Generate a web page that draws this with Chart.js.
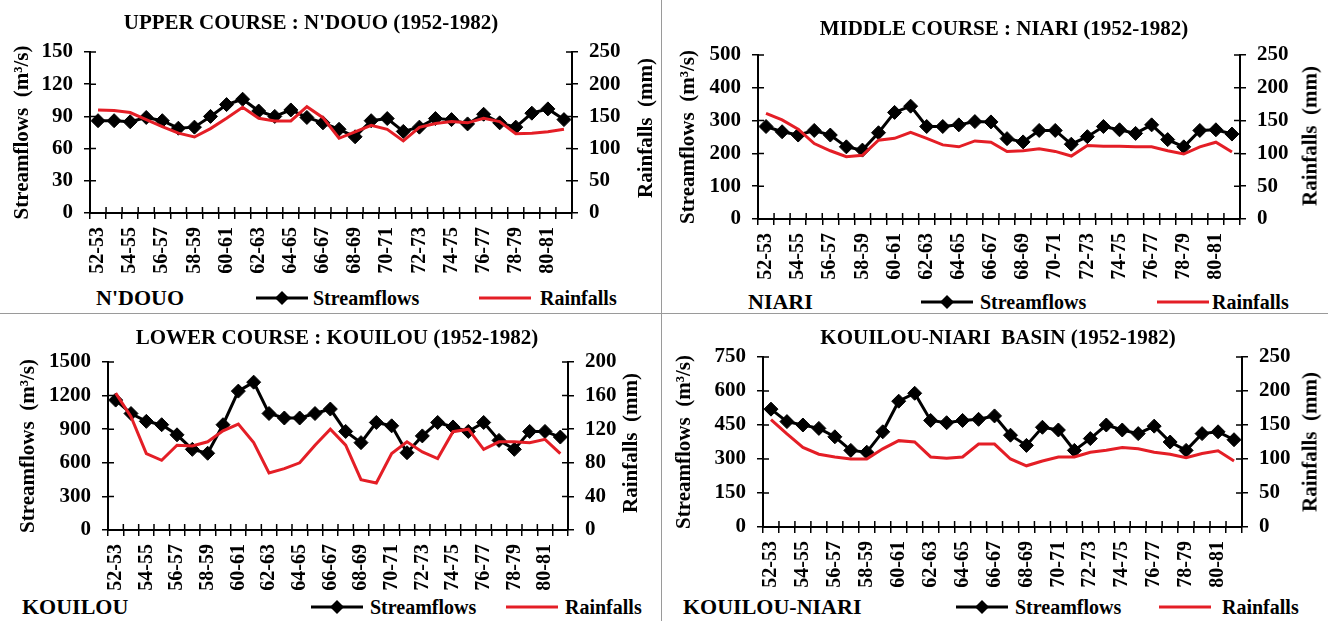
<!DOCTYPE html>
<html>
<head>
<meta charset="utf-8">
<script src="https://cdn.jsdelivr.net/npm/chart.js@4.4.0/dist/chart.umd.min.js"></script>
<style>
  body { margin: 0; background: #fff; }
  #page { position: relative; width: 1328px; height: 621px; overflow: hidden;
          font-family: 'Liberation Serif', 'Times New Roman', serif; font-weight: bold; color: #000; }
  canvas { position: absolute; }
  .txt { position: absolute; white-space: pre; line-height: 1; }
  .title { font-size: 21px; transform: translate(-50%, -50%); }
  .place { font-size: 22px; transform: translateY(-50%); }
  .leg { font-size: 20px; transform: translateY(-50%); }
  .rtitle { font-size: 21px; transform: translate(-50%, -50%) rotate(-90deg); }
  .sep { position: absolute; background: #9a9a9a; }
</style>
</head>
<body>
<div id="page">
  <div class="sep" style="left:661px;top:0;width:1px;height:621px"></div>
  <div class="sep" style="left:0;top:313px;width:1328px;height:1px"></div>
</div>
<script>
// hydrological years
const seasons = ['52-53', '53-54', '54-55', '55-56', '56-57', '57-58', '58-59', '59-60', '60-61', '61-62',
                 '62-63', '63-64', '64-65', '65-66', '66-67', '67-68', '68-69', '69-70', '70-71', '71-72',
                 '72-73', '73-74', '74-75', '75-76', '76-77', '77-78', '78-79', '79-80', '80-81', '81-82'];

// streamflows (m3/s) and rainfalls (mm)
const ndouoFlow = [86, 86, 85, 89, 86, 79, 80, 90, 101, 106, 95, 90, 96, 89, 84, 78, 71, 86, 88, 76, 80, 88, 87, 83, 92, 84, 80, 93, 97, 87];
const ndouoRain = [160, 159, 156, 145, 134, 124, 118, 131, 147, 164, 147, 143, 143, 165, 148, 116, 126, 136, 130, 112, 133, 139, 142, 140, 147, 142, 123, 124, 126, 130];

const niariFlow = [282, 266, 256, 270, 256, 220, 210, 263, 325, 344, 282, 282, 287, 297, 296, 245, 235, 270, 270, 228, 251, 282, 272, 261, 287, 242, 220, 270, 272, 259];
const niariRain = [161, 151, 137, 115, 104, 95, 97, 120, 123, 132, 123, 113, 110, 119, 117, 103, 104, 107, 103, 96, 112, 111, 111, 110, 110, 104, 99, 110, 117, 102];

const kouilouFlow = [1160, 1040, 970, 940, 850, 720, 685, 940, 1240, 1320, 1040, 1000, 1000, 1040, 1080, 880, 780, 960, 930, 690, 840, 960, 920, 880, 960, 800, 720, 880, 880, 830];
const kouilouRain = [163, 135, 91, 83, 101, 100, 105, 118, 126, 104, 68, 73, 80, 101, 120, 101, 60, 56, 91, 105, 93, 85, 117, 120, 96, 105, 105, 104, 108, 91];

const basinFlow = [520, 465, 450, 435, 398, 338, 330, 420, 555, 590, 470, 460, 470, 475, 490, 405, 360, 440, 428, 338, 390, 450, 428, 412, 445, 375, 338, 412, 420, 385];
const basinRain = [158, 137, 117, 107, 103, 100, 100, 115, 127, 125, 103, 101, 103, 122, 122, 100, 90, 97, 103, 103, 110, 113, 117, 115, 110, 107, 102, 108, 112, 97];

const RED = '#e41e26';

Chart.defaults.font.family = "'Liberation Serif', 'Times New Roman', serif";
Chart.defaults.font.weight = 'bold';
Chart.defaults.font.size = 21;
Chart.defaults.color = '#000';

// layout of the four panels (page pixels)
const panels = [
  { title: "UPPER COURSE : N'DOUO (1952-1982)", place: "N'DOUO", flow: ndouoFlow, rain: ndouoRain,
    yMax: 150, yStep: 15, yEvery: 30, rMax: 250, rStep: 25, rEvery: 50,
    left: 0, top: 0, w: 660, area: { l: 90, r: 572, t: 52, b: 213 }, yTitleX: 23,
    titleAt: [311, 22], placeAt: [96, 298], legY: 298, legX: [[255, 313], [478, 540]], rTitleAt: [645, 128] },
  { title: "MIDDLE COURSE : NIARI (1952-1982)", place: "NIARI", flow: niariFlow, rain: niariRain,
    yMax: 500, yStep: 50, yEvery: 100, rMax: 250, rStep: 25, rEvery: 50,
    left: 662, top: 0, w: 666, area: { l: 96, r: 578, t: 55, b: 219 }, yTitleX: 27,
    titleAt: [1004, 28], placeAt: [748, 302], legY: 302, legX: [[920, 980], [1156, 1212]], rTitleAt: [1310, 136] },
  { title: "LOWER COURSE : KOUILOU (1952-1982)", place: "KOUILOU", flow: kouilouFlow, rain: kouilouRain,
    yMax: 1500, yStep: 150, yEvery: 300, rMax: 200, rStep: 20, rEvery: 40,
    left: 0, top: 314, w: 660, area: { l: 108, r: 568, t: 48, b: 216 }, yTitleX: 29,
    titleAt: [337, 337], placeAt: [22, 607], legY: 607, legX: [[310, 370], [505, 565]], rTitleAt: [630, 443] },
  { title: "KOUILOU-NIARI  BASIN (1952-1982)", place: "KOUILOU-NIARI", flow: basinFlow, rain: basinRain,
    yMax: 750, yStep: 75, yEvery: 150, rMax: 250, rStep: 25, rEvery: 50,
    left: 662, top: 314, w: 666, area: { l: 101, r: 580, t: 43, b: 213 }, yTitleX: 23,
    titleAt: [998, 337], placeAt: [683, 607], legY: 607, legX: [[955, 1015], [1158, 1222]], rTitleAt: [1310, 442] }
];

// tick marks that cross the axis lines (Chart.js only draws the outer half)
const crossTicks = {
  id: 'crossTicks',
  beforeDatasetsDraw(chart) {
    const { ctx, chartArea: a, scales } = chart;
    const len = 6;
    ctx.save();
    ctx.strokeStyle = '#000';
    ctx.lineWidth = 1.5;
    ctx.beginPath();
    for (let i = 0; i <= scales.x.ticks.length; i++) {
      const px = scales.x.getPixelForValue(i - 0.5);
      ctx.moveTo(px, a.bottom);
      ctx.lineTo(px, a.bottom - len);
    }
    scales.y.ticks.forEach(t => {
      const py = scales.y.getPixelForValue(t.value);
      ctx.moveTo(a.left, py);
      ctx.lineTo(a.left + len, py);
    });
    scales.y1.ticks.forEach(t => {
      const py = scales.y1.getPixelForValue(t.value);
      ctx.moveTo(a.right, py);
      ctx.lineTo(a.right - len, py);
    });
    ctx.stroke();
    ctx.restore();
  }
};

const page = document.getElementById('page');

function addText(cls, text, x, y) {
  const d = document.createElement('div');
  d.className = 'txt ' + cls;
  d.textContent = text;
  d.style.left = x + 'px';
  d.style.top = y + 'px';
  page.appendChild(d);
}

// little legend sample: line, plus a diamond when the series has markers
function legendMark(ds) {
  const c = document.createElement('canvas');
  c.width = 54; c.height = 18;
  const g = c.getContext('2d');
  g.strokeStyle = ds.borderColor;
  g.lineWidth = ds.borderWidth;
  g.beginPath(); g.moveTo(1, 9); g.lineTo(53, 9); g.stroke();
  if (ds.pointRadius > 0) {
    const r = ds.pointRadius;
    g.fillStyle = ds.pointBackgroundColor;
    g.beginPath();
    g.moveTo(27 - r, 9); g.lineTo(27, 9 - r); g.lineTo(27 + r, 9); g.lineTo(27, 9 + r);
    g.closePath(); g.fill();
  }
  return c;
}

const xH = 64;

panels.forEach(p => {
  const cv = document.createElement('canvas');
  const h = p.area.b + xH;
  cv.width = p.w; cv.height = h;
  cv.style.left = p.left + 'px';
  cv.style.top = p.top + 'px';
  page.appendChild(cv);

  const chart = new Chart(cv.getContext('2d'), {
    type: 'line',
    data: {
      labels: seasons,
      datasets: [
        { label: 'Streamflows', data: p.flow, yAxisID: 'y', order: 1,
          borderColor: '#000', borderWidth: 3, tension: 0,
          pointStyle: 'rectRot', pointRadius: 7, pointBackgroundColor: '#000',
          pointBorderColor: '#000', pointBorderWidth: 1 },
        { label: 'Rainfalls', data: p.rain, yAxisID: 'y1', order: 0,
          borderColor: RED, borderWidth: 3, tension: 0, pointRadius: 0 }
      ]
    },
    options: {
      responsive: false,
      animation: false,
      layout: { padding: { top: p.area.t, left: 0, right: 0, bottom: 0 } },
      plugins: { legend: { display: false }, title: { display: false }, tooltip: { enabled: false } },
      scales: {
        x: {
          offset: true,
          grid: { offset: true, drawOnChartArea: false, color: '#000', lineWidth: 1.5, tickLength: 6 },
          border: { color: '#000', width: 2 },
          ticks: {
            autoSkip: false, minRotation: 90, maxRotation: 90, padding: 8, font: { size: 20 },
            callback: function (v, i) { return i % 2 === 0 ? this.getLabelForValue(v) : ''; }
          },
          afterFit: s => { s.height = xH; }
        },
        y: {
          position: 'left', min: 0, max: p.yMax,
          grid: { drawOnChartArea: false, color: '#000', lineWidth: 1.5, tickLength: 6 },
          border: { color: '#000', width: 2 },
          ticks: { stepSize: p.yStep, padding: 11,
                   callback: v => (v % p.yEvery === 0 ? v : '') },
          title: { display: true, text: 'Streamflows  (m³/s)', font: { size: 21 },
                   padding: { top: p.yTitleX - 12.6, bottom: 0 } },
          afterFit: s => { s.width = p.area.l; }
        },
        y1: {
          position: 'right', min: 0, max: p.rMax,
          grid: { drawOnChartArea: false, color: '#000', lineWidth: 1.5, tickLength: 6 },
          border: { color: '#000', width: 2 },
          ticks: { stepSize: p.rStep, padding: 11,
                   callback: v => (v % p.rEvery === 0 ? v : '') },
          afterFit: s => { s.width = p.w - p.area.r; }
        }
      }
    },
    plugins: [crossTicks]
  });

  addText('title', p.title, p.titleAt[0], p.titleAt[1]);
  addText('place', p.place, p.placeAt[0], p.placeAt[1]);
  addText('rtitle', 'Rainfalls  (mm)', p.rTitleAt[0], p.rTitleAt[1]);

  chart.data.datasets.forEach((ds, i) => {
    const m = legendMark(ds);
    m.style.left = p.legX[i][0] + 'px';
    m.style.top = (p.legY - 9) + 'px';
    page.appendChild(m);
    addText('leg', ds.label, p.legX[i][1], p.legY);
  });
});
</script>
</body>
</html>
